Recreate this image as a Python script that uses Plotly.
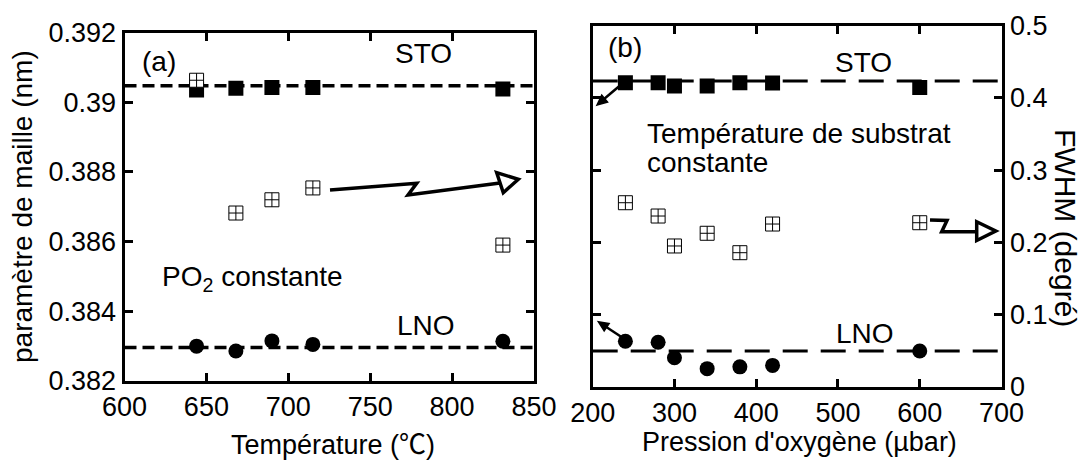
import math
import plotly.graph_objects as go

W, H = 1087, 460
OFF = 8  # the page body adds an 8 px margin; positions below are in window pixels

# ---------------- data: panel (a) constant PO2 ----------------
temp_a = [644, 668, 690, 715, 831]
sto_a = [0.39035, 0.39040, 0.39042, 0.39042, 0.39038]
lno_a = [0.38300, 0.38286, 0.38315, 0.38305, 0.38314]
fwhm_a = [0.39063, 0.38682, 0.38720, 0.38754, 0.38590]
sto_ref_a = 0.39047
lno_ref_a = 0.38296
x_range_a = [600, 850]
y_range = [0.382, 0.392]
y_ticks = [0.382, 0.384, 0.386, 0.388, 0.39, 0.392]
y_ticktext = ["0.382", "0.384", "0.386", "0.388", "0.39", "0.392"]

# ---------------- data: panel (b) constant substrate temperature ----------------
press_b = [240, 280, 300, 340, 380, 420, 600]
sto_b = [0.39042, 0.39042, 0.39033, 0.39033, 0.39042, 0.39041, 0.39029]
lno_b = [0.38326, 0.38323, 0.38280, 0.38250, 0.38255, 0.38259, 0.38299]
fwhm_b = [0.2548, 0.2364, 0.1949, 0.2125, 0.1856, 0.2253, 0.2271]
sto_ref_b = 0.39047
lno_ref_b = 0.38299
x_range_b = [200, 700]
fwhm_range = [0, 0.5]
fwhm_ticks = [0, 0.1, 0.2, 0.3, 0.4, 0.5]
fwhm_ticktext = ["0", "0.1", "0.2", "0.3", "0.4", "0.5"]

FONT = "Arial, Liberation Sans, Helvetica, sans-serif"
TICK_SIZE = 27
TEXT_SIZE = 28


def fx(x):
    return (x - OFF) / W


def fy(y):
    return 1 - (y - OFF) / H


fig = go.Figure()

black_sq = dict(symbol="square", size=15, color="black", line=dict(width=0))
black_ci = dict(symbol="circle", size=15, color="black", line=dict(width=0))
cross_sq = dict(symbol="square-cross", size=14, color="white", line=dict(width=1, color="black"))

# panel (a)
fig.add_trace(go.Scatter(x=x_range_a, y=[sto_ref_a] * 2, mode="lines", xaxis="x", yaxis="y",
                         line=dict(color="black", width=3.5, dash="12px,6px"), showlegend=False))
fig.add_trace(go.Scatter(x=x_range_a, y=[lno_ref_a] * 2, mode="lines", xaxis="x", yaxis="y",
                         line=dict(color="black", width=3.5, dash="12px,6px"), showlegend=False))
fig.add_trace(go.Scatter(x=temp_a, y=sto_a, mode="markers", xaxis="x", yaxis="y",
                         marker=black_sq, showlegend=False, name="STO"))
fig.add_trace(go.Scatter(x=temp_a, y=lno_a, mode="markers", xaxis="x", yaxis="y",
                         marker=black_ci, showlegend=False, name="LNO"))
fig.add_trace(go.Scatter(x=temp_a, y=fwhm_a, mode="markers", xaxis="x", yaxis="y",
                         marker=cross_sq, showlegend=False, name="FWHM"))

# panel (b)
fig.add_trace(go.Scatter(x=x_range_b, y=[sto_ref_b] * 2, mode="lines", xaxis="x2", yaxis="y2",
                         line=dict(color="black", width=3, dash="25px,13px"), showlegend=False))
fig.add_trace(go.Scatter(x=x_range_b, y=[lno_ref_b] * 2, mode="lines", xaxis="x2", yaxis="y2",
                         line=dict(color="black", width=3, dash="25px,13px"), showlegend=False))
fig.add_trace(go.Scatter(x=press_b, y=sto_b, mode="markers", xaxis="x2", yaxis="y2",
                         marker=black_sq, showlegend=False, name="STO"))
fig.add_trace(go.Scatter(x=press_b, y=lno_b, mode="markers", xaxis="x2", yaxis="y2",
                         marker=black_ci, showlegend=False, name="LNO"))
fig.add_trace(go.Scatter(x=press_b, y=fwhm_b, mode="markers", xaxis="x2", yaxis="y3",
                         marker=cross_sq, showlegend=False, name="FWHM"))

axis_common = dict(showgrid=False, zeroline=False, showline=True, linewidth=3, linecolor="black",
                   ticks="inside", ticklen=8, tickwidth=3, tickcolor="black", automargin=False,
                   tickfont=dict(family=FONT, size=TICK_SIZE, color="black"))

fig.update_layout(
    width=W, height=H,
    margin=dict(l=0, r=0, t=0, b=0, pad=0),
    paper_bgcolor="white", plot_bgcolor="white",
    font=dict(family=FONT, size=TEXT_SIZE, color="black"),
    xaxis=dict(domain=[fx(124.5), fx(534)], range=x_range_a, dtick=50, tick0=600,
               anchor="y", mirror="ticks", **axis_common),
    yaxis=dict(domain=[fy(381), fy(32.5)], range=y_range, tickvals=y_ticks,
               ticktext=y_ticktext, anchor="x", mirror="ticks", **axis_common),
    xaxis2=dict(domain=[fx(592.7), fx(1001.5)], range=x_range_b, dtick=100, tick0=200,
                anchor="y2", mirror="ticks", **axis_common),
    yaxis2=dict(domain=[fy(386.7), fy(25.7)], range=y_range, tickvals=y_ticks,
                showticklabels=False, anchor="x2", **axis_common),
    yaxis3=dict(range=fwhm_range, tickvals=fwhm_ticks, ticktext=fwhm_ticktext,
                overlaying="y2", side="right", anchor="x2", **axis_common),
)


def note(text, x, y, xanchor="center", yanchor="middle", angle=0, size=TEXT_SIZE):
    fig.add_annotation(text=text, x=fx(x), y=fy(y), xref="paper", yref="paper", showarrow=False,
                       xanchor=xanchor, yanchor=yanchor, textangle=angle,
                       font=dict(family=FONT, size=size, color="black"))


# axis titles
note("Température (<span style=\"font-family:'Noto Sans CJK SC'\">℃</span>)", 333, 442, size=27)
note("Pression d'oxygène (µbar)", 799, 442, size=27)
note("paramètre de maille (nm)", 22, 207, angle=-90)
note("FWHM (degré)", 1066, 228, angle=90, size=30)

# panel labels
note("(a)", 140, 62, xanchor="left")
note("STO", 423, 54)
note("LNO", 426, 325)
note("PO<sub>2</sub> constante", 160, 278, xanchor="left")
note("(b)", 606, 48, xanchor="left")
note("STO", 863, 63)
note("LNO", 865, 333)
note("Température de substrat", 645, 133, xanchor="left")
note("constante", 645, 162, xanchor="left")


def path_px(points, close=False):
    s = "M " + " L ".join(f"{fx(x):.5f},{fy(y):.5f}" for x, y in points)
    return s + (" Z" if close else "")


def line_px(points, width=3.5):
    fig.add_shape(type="path", xref="paper", yref="paper", path=path_px(points),
                  line=dict(color="black", width=width))


def head_px(points, fill):
    fig.add_shape(type="path", xref="paper", yref="paper", path=path_px(points, True),
                  line=dict(color="black", width=3.5 if fill == "white" else 1.5),
                  fillcolor=fill)


def small_arrow(tail, tip, length=10, half=4.5):
    dx, dy = tip[0] - tail[0], tip[1] - tail[1]
    n = math.hypot(dx, dy)
    ux, uy = dx / n, dy / n
    bx, by = tip[0] - length * ux, tip[1] - length * uy
    line_px([tail, (bx, by)], width=2.5)
    head_px([tip, (bx + half * uy, by - half * ux), (bx - half * uy, by + half * ux)], "black")


# zig-zag arrow in panel (a)
line_px([(330, 190), (416.7, 183.3), (408, 195), (500, 183)])
head_px([(496.7, 172.7), (518.3, 179.3), (503.3, 192.7)], "white")

# zig-zag arrow in panel (b) towards the FWHM axis
line_px([(930, 220), (947, 220.5), (941.7, 231.7), (978, 231.7)])
head_px([(976.7, 221.7), (995.8, 231), (976.7, 240.5)], "white")

# small arrows pointing to the left (lattice parameter) axis in panel (b)
small_arrow((623, 83), (597, 105))
small_arrow((623, 338), (598.3, 321.7))

fig.write_html("out.html")
